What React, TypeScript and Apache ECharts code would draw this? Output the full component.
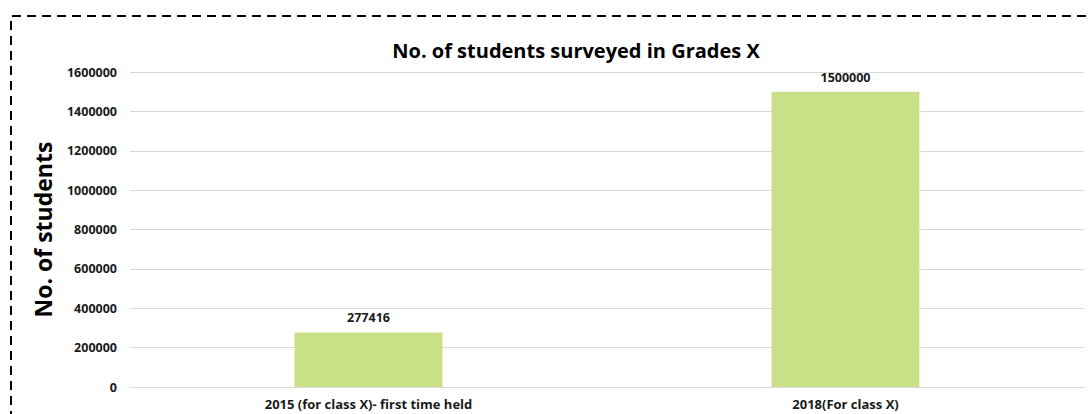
import React, { useEffect, useRef } from "react";
import * as echarts from "echarts";

const categories = ["2015 (for class X)- first time held", "2018(For class X)"];
const students = [277416, 1500000];
const yTicks = { min: 0, max: 1600000, interval: 200000 };
const titleText = "No. of students surveyed in Grades X";
const yAxisName = "No. of students";

export default function App() {
  const ref = useRef<HTMLDivElement>(null);
  useEffect(() => {
    if (!ref.current) return;
    const chart = echarts.init(ref.current, null, { renderer: "svg" });
    const font = "'Open Sans', Lato, sans-serif";
    chart.setOption({
      animation: false,
      backgroundColor: "#ffffff",
      textStyle: { fontFamily: font },
      title: {
        text: titleText,
        left: 571,
        top: 35,
        textAlign: "center",
        textStyle: { fontSize: 20, fontWeight: "bold", color: "#000000", fontFamily: font },
      },
      graphic: [
        {
          type: "polyline",
          shape: { points: [[11, 420], [11, 16], [1100, 16]] },
          style: { stroke: "#000000", lineWidth: 2, lineDash: [9, 6], fill: "none" },
          silent: true,
        },
      ],
      grid: { left: 130, right: 8, top: 72, bottom: 27, containLabel: false },
      xAxis: {
        type: "category",
        data: categories,
        axisLine: { show: true, lineStyle: { color: "#d9d9d9", width: 1 } },
        axisTick: { show: false },
        axisLabel: { color: "#1a1a1a", fontSize: 13, fontWeight: "bold", margin: 10, fontFamily: font },
      },
      yAxis: {
        type: "value",
        min: yTicks.min,
        max: yTicks.max,
        interval: yTicks.interval,
        name: yAxisName,
        nameLocation: "middle",
        nameGap: 76,
        nameTextStyle: { fontSize: 23, fontWeight: "bold", color: "#000000", fontFamily: font },
        axisLine: { show: false },
        axisTick: { show: false },
        axisLabel: {
          color: "#1a1a1a",
          fontSize: 12.5,
          fontWeight: "bold",
          margin: 13,
          fontFamily: font,
          formatter: (v: number) => String(v),
        },
        splitLine: { lineStyle: { color: "#d9d9d9", width: 1 } },
      },
      series: [
        {
          type: "bar",
          data: students,
          barWidth: "31%",
          itemStyle: { color: "#cae087" },
          label: {
            show: true,
            position: "top",
            distance: 8,
            color: "#1a1a1a",
            fontSize: 12.5,
            fontWeight: "bold",
            fontFamily: font,
          },
        },
      ],
    });
    return () => chart.dispose();
  }, []);
  return (
    <div
      ref={ref}
      style={{ position: "absolute", left: 0, top: 0, width: 1092, height: 414 }}
    />
  );
}
